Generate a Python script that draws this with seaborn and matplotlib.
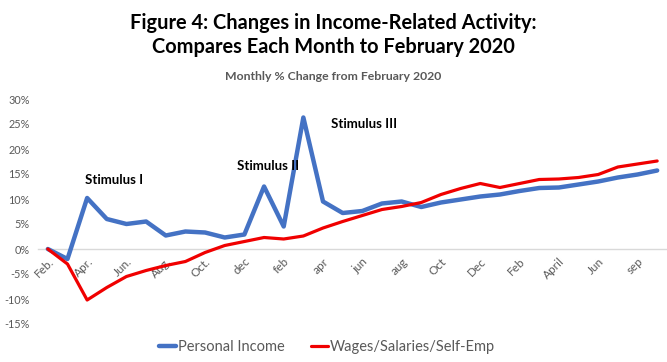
import numpy as np
import pandas as pd
import seaborn as sns
import matplotlib.pyplot as plt

# monthly % change from Feb 2020 (Feb 2020 .. Sep 2022)
personal_income = [0, -2.0, 10.2, 6.0, 5.0, 5.5, 2.7, 3.5, 3.3, 2.3, 2.9, 12.5,
                   4.5, 26.3, 9.5, 7.2, 7.6, 9.1, 9.5, 8.4, 9.3, 9.9, 10.5, 10.9,
                   11.6, 12.2, 12.3, 12.9, 13.5, 14.3, 14.9, 15.7]
wages = [0, -3.0, -10.2, -7.7, -5.5, -4.3, -3.3, -2.5, -0.7, 0.7, 1.5, 2.3,
         2.0, 2.6, 4.2, 5.5, 6.7, 7.9, 8.5, 9.3, 10.9, 12.1, 13.1, 12.3,
         13.1, 13.9, 14.0, 14.3, 14.9, 16.4, 17.0, 17.6]
tick_labels = ["Feb.", "Apr.", "Jun.", "Aug.", "Oct.", "dec", "feb", "apr",
               "jun", "aug", "Oct", "Dec", "Feb", "April", "Jun", "sep"]
series_names = ["Personal Income", "Wages/Salaries/Self-Emp"]

# annotation labels (x in month index, y in %)
notes = ["Stimulus I", "Stimulus II", "Stimulus III"]
note_x = [3.35, 11.2, 16.1]
note_y = [13.9, 16.7, 25.0]

n = len(personal_income)
df = pd.DataFrame({
    "month": list(range(n)) * 2,
    "value": personal_income + wages,
    "series": [series_names[0]] * n + [series_names[1]] * n,
})

sns.set_style("white")
plt.rcParams["font.family"] = ["Lato", "DejaVu Sans"]
gray = "#595959"

fig = plt.figure(figsize=(6.67, 3.62), dpi=100)
ax = fig.add_axes([38 / 667, 1 - 324 / 362, 629 / 667, 225 / 362])

sns.lineplot(data=df, x="month", y="value", hue="series",
             palette=["#4472C4", "#F00000"], ax=ax, legend=False)
ax.lines[0].set_linewidth(3.2)
ax.lines[1].set_linewidth(2.3)

# category axis crosses at 0% (set before tick labels, it resets ticks)
for s in ["top", "right", "left"]:
    ax.spines[s].set_visible(False)
ax.spines["bottom"].set_position(("data", 0))
ax.spines["bottom"].set_color("#D9D9D9")
ax.spines["bottom"].set_linewidth(1)
ax.spines["bottom"].set_zorder(0)

ax.set_xlim(-0.5, n - 0.5)
ax.set_ylim(-15, 30)
ax.set_yticks(range(-15, 31, 5))
ax.set_yticklabels([f"{v}%" for v in range(-15, 31, 5)], color=gray, fontsize=7.8)
ax.set_xticks(range(0, n, 2))
ax.set_xticklabels(tick_labels, rotation=45, ha="right", rotation_mode="anchor",
                   color=gray, fontsize=8.5)
ax.tick_params(axis="both", length=0)
ax.tick_params(axis="x", pad=5)
ax.tick_params(axis="y", pad=6)
ax.set_xlabel("")
ax.set_ylabel("")

for txt, x, y in zip(notes, note_x, note_y):
    ax.text(x, y, txt, ha="center", va="center", fontsize=9.5,
            fontweight="bold", color="black")

fig.text(0.5, 1 - 35 / 362,
         "Figure 4: Changes in Income-Related Activity:\nCompares Each Month to February 2020",
         ha="center", va="center", fontsize=14.4, fontweight="bold",
         linespacing=1.2, color="black")
fig.text(0.5, 1 - 77 / 362, "Monthly % Change from February 2020",
         ha="center", va="center", fontsize=8.8, fontweight="bold", color=gray)

handles = [plt.Line2D([], [], color="#4472C4", lw=3.2),
           plt.Line2D([], [], color="#F00000", lw=2.3)]
leg = fig.legend(handles, series_names, loc="center", bbox_to_anchor=(0.49, 1 - 347 / 362),
                 ncol=2, frameon=False, fontsize=10.5, handlelength=1.2,
                 handletextpad=0.1, columnspacing=1.8)
for t in leg.get_texts():
    t.set_color(gray)

fig.savefig("out.png", dpi=100)
